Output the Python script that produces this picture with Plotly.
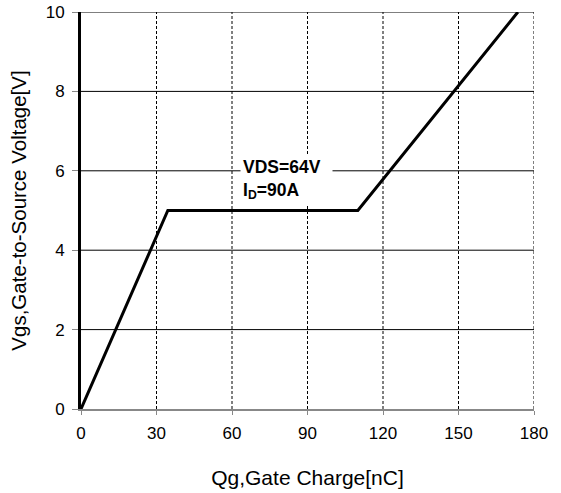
import plotly.graph_objects as go

qg = [0, 34.5, 110, 173.6]
vgs = [0, 5, 5, 10]
x_ticks = [0, 30, 60, 90, 120, 150, 180]
y_ticks = [0, 2, 4, 6, 8, 10]

fig = go.Figure()
# vertical dashed gridlines
for xv in x_ticks[1:]:
    fig.add_shape(type="line", x0=xv, x1=xv, y0=0, y1=10, xref="x", yref="y",
                  line=dict(color="black", width=1, dash="3px,2px"), layer="below")
# horizontal solid gridlines
for yv in y_ticks[1:]:
    fig.add_shape(type="line", x0=0, x1=180, y0=yv, y1=yv, xref="x", yref="y",
                  line=dict(color="black", width=1), layer="below")

fig.add_trace(go.Scatter(x=qg, y=vgs, mode="lines",
                         line=dict(color="black", width=3), showlegend=False))

fig.add_annotation(x=63, y=5.78, xref="x", yref="y", xanchor="left", yanchor="middle",
                   text="<b>VDS=64V</b>  <br><b>I<sub>D</sub>=90A</b>", align="left",
                   showarrow=False, bgcolor="white", borderpad=2,
                   font=dict(family="Liberation Sans, Arial", size=17.5, color="black"))

font_t = "Liberation Sans Narrow, Arial Narrow, Liberation Sans"
fig.update_xaxes(range=[0, 180], tickvals=x_ticks, showgrid=False, zeroline=False,
                 showline=True, linecolor="#888888", linewidth=2, automargin=False,
                 ticks="outside", ticklen=4, tickcolor="#888888", ticklabelstandoff=4,
                 tickfont=dict(family=font_t, size=17, color="black"),
                 title=dict(text="Qg,Gate Charge[nC]", standoff=28,
                            font=dict(family=font_t, size=21, color="black")))
fig.update_yaxes(range=[0, 10], tickvals=y_ticks, showgrid=False, zeroline=False,
                 showline=True, linecolor="black", linewidth=3, automargin=False,
                 ticks="outside", ticklen=6, tickcolor="#888888", ticklabelstandoff=4,
                 tickfont=dict(family=font_t, size=17, color="black"),
                 title=dict(text="Vgs,Gate-to-Source Voltage[V]", standoff=14,
                            font=dict(family=font_t, size=20.5, color="black")))

fig.update_layout(width=561, height=493, plot_bgcolor="white", paper_bgcolor="white",
                  margin=dict(l=81, r=27, t=12, b=84))
# remove the browser's default 8px page margin so the figure fills the window
fig.write_html("out.html", config={"displayModeBar": False},
               post_script="document.body.style.margin='0';")
